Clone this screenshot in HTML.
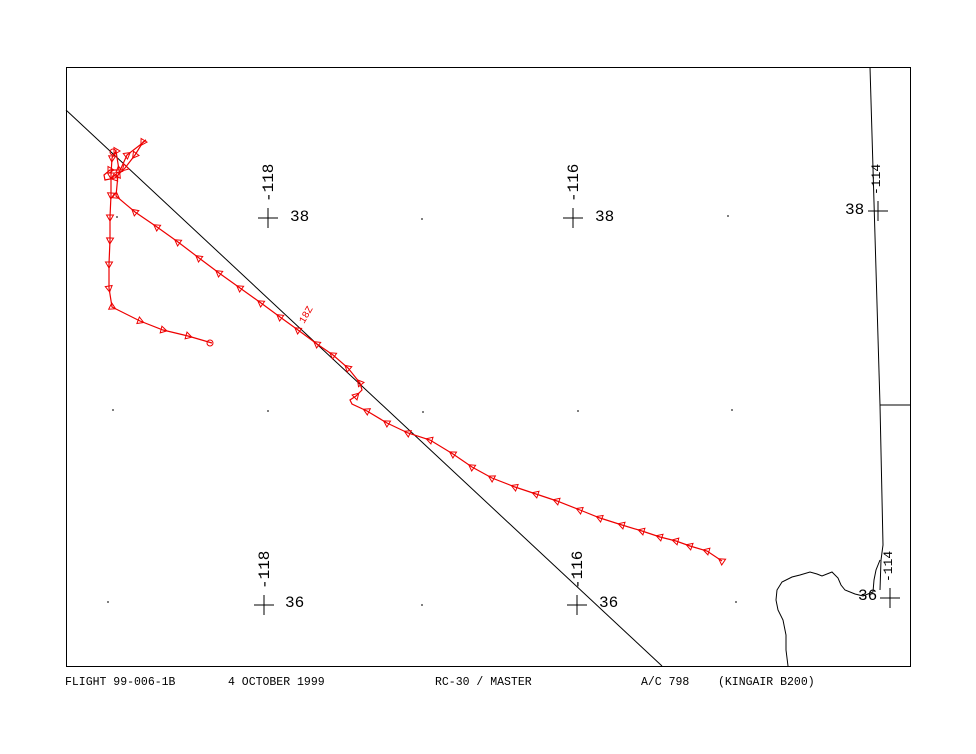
<!DOCTYPE html>
<html><head><meta charset="utf-8"><style>
body{margin:0;background:#fff;width:976px;height:754px;overflow:hidden}
svg{display:block}
text{font-family:"Liberation Mono",monospace}
</style></head><body>
<svg id="s" width="976" height="754" viewBox="0 0 976 754">
<rect x="66.5" y="67.5" width="844" height="599" fill="none" stroke="#000" stroke-width="1"/>
<line x1="66" y1="110" x2="662" y2="666" stroke="#000" stroke-width="1"/>
<polyline points="870,67 880,405 883,545 881,560 880,590" fill="none" stroke="#000"/>
<line x1="880" y1="405" x2="910" y2="405" stroke="#000"/>
<polyline points="880,560 876,570 874,580 873,592 863,596 855,594 845,590 841,585 838,578 832,572 822,576 817,574 810,572 800,575 792,577 782,582 777,590 776,600 778,610 783,620 786,635 786,650 788,666" fill="none" stroke="#000"/>
<g stroke="#000" fill="none">
<path d="M258 218h20M268 208v20M563 218h20M573 208v20M868 211h20M878 201v20M254 605h20M264 595v20M567 605h20M577 595v20M880 598h20M890 588v20"/>
</g>
<g font-size="16" fill="#000">
<text x="290" y="221" font-family="Liberation Sans">38</text>
<text x="595" y="221" font-family="Liberation Sans">38</text>
<text x="845" y="214" font-family="Liberation Sans">38</text>
<text x="285" y="607" font-family="Liberation Sans">36</text>
<text x="599" y="607" font-family="Liberation Sans">36</text>
<text x="858" y="600" font-family="Liberation Sans">36</text>
<text transform="translate(273,202) rotate(-90)" font-family="Liberation Sans">-118</text>
<text transform="translate(578,202) rotate(-90)" font-family="Liberation Sans">-116</text>
<text transform="translate(880,195) rotate(-90)" font-family="Liberation Sans" font-size="13">-114</text>
<text transform="translate(269,589) rotate(-90)" font-family="Liberation Sans">-118</text>
<text transform="translate(582,589) rotate(-90)" font-family="Liberation Sans">-116</text>
<text transform="translate(892,582) rotate(-90)" font-family="Liberation Sans" font-size="13">-114</text>
</g>
<g stroke="#000">
<path d="M421 219h2M727 216h2M112 410h2M267 411h2M422 412h2M577 411h2M731 410h2M107 602h2M421 605h2M735 602h2M116 217h2"/>
</g>
<polyline id="t" fill="none" stroke="#e00" stroke-width="1.2" points="212,343 188,336 163,330 140,321 112,307 109,288 109,264 110,240 110,217 111,195 111,175 112,158 116,151 119,170 110,170 104,175 105,180 115,178 125,168 135,155 143,142 146,140 140,145 127,155 118,175 116,196 135,212 157,227 178,242 199,258 219,273 240,288 261,303 280,317 298,330 317,344 333,355 348,368 360,383 362,390 356,396 350,400 352,404 367,411 387,423 408,433 430,440 453,454 472,467 492,478 515,487 536,494 557,501 580,510 600,518 622,525 642,531 660,537 676,541 690,546 707,551 722,561"/>
<g id="m" fill="none" stroke="#e00" stroke-width="1"></g>
<circle cx="210" cy="343" r="3" fill="none" stroke="#e00"/>
<circle cx="113" cy="152" r="3" fill="none" stroke="#e00"/>
<text transform="translate(304,324) rotate(-60)" font-size="10" fill="#e00">18Z</text>
<g font-size="11.5" fill="#000">
<text x="65" y="685">FLIGHT 99-006-1B</text>
<text x="228" y="685">4 OCTOBER 1999</text>
<text x="435" y="685">RC-30 / MASTER</text>
<text x="641" y="685">A/C 798</text>
<text x="718" y="685">(KINGAIR B200)</text>
</g>
</svg>
<script>
var pts=document.getElementById('t').getAttribute('points').trim().split(/\s+/).map(function(p){return p.split(',').map(Number)});
var g=document.getElementById('m'),s='';
for(var i=1;i<pts.length;i++){var a=pts[i-1],b=pts[i];if(Math.hypot(b[0]-a[0],b[1]-a[1])<8)continue;
var ang=Math.atan2(b[1]-a[1],b[0]-a[0]);var x=b[0],y=b[1],r=4;
var p=[];for(var k=0;k<3;k++){var t=ang+Math.PI+k*2*Math.PI/3;p.push((x+r*Math.cos(t)).toFixed(1)+','+(y+r*Math.sin(t)).toFixed(1));}
s+='<polygon points="'+p.join(' ')+'"/>';}
g.innerHTML=s;
</script>
</body></html>
